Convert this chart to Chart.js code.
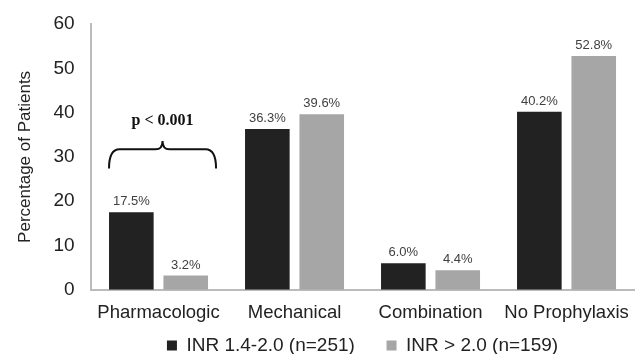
<!DOCTYPE html>
<html>
<head>
<meta charset="utf-8">
<script src="https://cdn.jsdelivr.net/npm/chart.js@4/dist/chart.umd.min.js"></script>
<style>
  html, body { margin: 0; padding: 0; background: #ffffff; }
  #wrap { width: 641px; height: 354px; }
</style>
</head>
<body>
<div id="wrap"><canvas id="chart" width="641" height="354"></canvas></div>
<script>
const CATEGORIES = ["Pharmacologic", "Mechanical", "Combination", "No Prophylaxis"];
const INR_LOW = [17.5, 36.3, 6.0, 40.2];
const INR_HIGH = [3.2, 39.6, 4.4, 52.8];
const SERIES_NAMES = ["INR 1.4-2.0 (n=251)", "INR > 2.0 (n=159)"];
const Y_TICKS = [0, 10, 20, 30, 40, 50, 60];

const FONT = "'Liberation Sans', Arial, sans-serif";

// value labels above each bar
const valueLabels = {
  id: "valueLabels",
  afterDatasetsDraw(chart) {
    const ctx = chart.ctx;
    ctx.save();
    ctx.font = "13px " + FONT;
    ctx.fillStyle = "#404040";
    ctx.textAlign = "center";
    ctx.textBaseline = "bottom";
    chart.data.datasets.forEach((ds, i) => {
      chart.getDatasetMeta(i).data.forEach((bar, j) => {
        ctx.fillText(ds.data[j].toFixed(1) + "%", bar.x, bar.y - 4);
      });
    });
    ctx.restore();
  },
};

// curly brace + p value over the first group
const braceNote = {
  id: "braceNote",
  afterDatasetsDraw(chart) {
    const ctx = chart.ctx;
    const y = chart.scales.y;
    const left = chart.getDatasetMeta(0).data[0];
    const right = chart.getDatasetMeta(1).data[0];
    const x0 = left.x - left.width / 2;
    const x1 = right.x + right.width / 2 + 8;
    const xm = (x0 + x1) / 2;
    const yEnd = y.getPixelForValue(27.4);
    const yBar = y.getPixelForValue(31.7);
    const yTip = y.getPixelForValue(33.6);
    const r = 7;
    ctx.save();
    ctx.strokeStyle = "#111";
    ctx.lineWidth = 2;
    ctx.beginPath();
    ctx.moveTo(x0, yEnd);
    ctx.quadraticCurveTo(x0, yBar, x0 + r * 1.5, yBar);
    ctx.lineTo(xm - r, yBar);
    ctx.quadraticCurveTo(xm, yBar, xm, yTip);
    ctx.quadraticCurveTo(xm, yBar, xm + r, yBar);
    ctx.lineTo(x1 - r * 1.5, yBar);
    ctx.quadraticCurveTo(x1, yBar, x1, yEnd);
    ctx.stroke();
    ctx.font = "bold 16px 'Liberation Serif', 'Times New Roman', serif";
    ctx.fillStyle = "#111";
    ctx.textAlign = "center";
    ctx.textBaseline = "middle";
    ctx.fillText("p < 0.001", xm, y.getPixelForValue(38.2));
    ctx.restore();
  },
};

new Chart(document.getElementById("chart"), {
  type: "bar",
  data: {
    labels: CATEGORIES,
    datasets: [
      { label: SERIES_NAMES[0], data: INR_LOW, backgroundColor: "#222222" },
      { label: SERIES_NAMES[1], data: INR_HIGH, backgroundColor: "#a6a6a6" },
    ],
  },
  options: {
    responsive: false,
    animation: false,
    layout: { padding: { top: 24, right: 2, left: 11, bottom: -11 } },
    datasets: { bar: { categoryPercentage: 0.8, barPercentage: 0.82 } },
    scales: {
      x: {
        grid: { display: false, drawTicks: false },
        border: { display: true, color: "#bbbbbb", width: 2 },
        ticks: { color: "#222", font: { family: FONT, size: 18.5, lineHeight: 1.2 }, padding: 12 },
      },
      y: {
        min: 0,
        max: 60,
        afterBuildTicks: (axis) => { axis.ticks = Y_TICKS.map((v) => ({ value: v })); },
        afterFit: (axis) => { axis.paddingTop = 0; axis.paddingBottom = 0; },
        grid: { display: false, drawTicks: false },
        border: { display: true, color: "#bbbbbb", width: 2 },
        ticks: { color: "#222", font: { family: FONT, size: 19 }, padding: 16 },
        title: { display: true, text: "Percentage of Patients", color: "#222", font: { family: FONT, size: 17 }, padding: { bottom: 2 } },
      },
    },
    plugins: {
      tooltip: { enabled: false },
      legend: {
        position: "bottom",
        fullSize: false,
        labels: {
          color: "#222",
          font: { family: FONT, size: 19, lineHeight: 1 },
          boxWidth: 10,
          boxHeight: 10,
          padding: 0,
          generateLabels(chart) {
            const items = Chart.defaults.plugins.legend.labels.generateLabels(chart);
            items[0].text += "      ";
            return items;
          },
        },
      },
    },
  },
  plugins: [valueLabels, braceNote],
});
</script>
</body>
</html>
